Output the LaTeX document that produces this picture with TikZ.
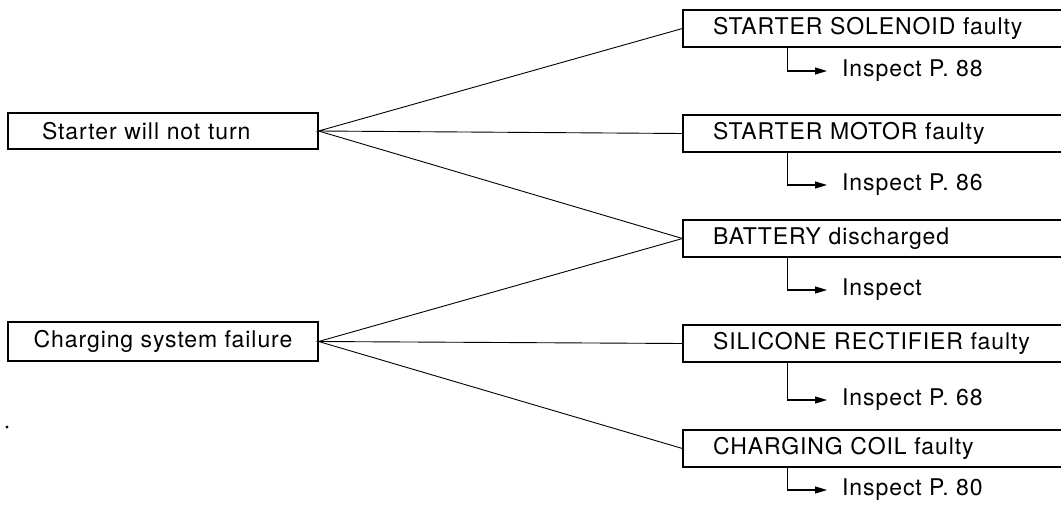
\documentclass[tikz,border=0pt]{standalone}
\usepackage{fontspec}
\setmainfont{TeX Gyre Heros}[LetterSpace=4]
\usetikzlibrary{arrows.meta}
\begin{document}
\begin{tikzpicture}[x=1pt,y=-1pt,
  every node/.style={font=\fontsize{23}{26}\selectfont},
  lbox/.style={draw,line width=1.1pt,minimum width=310pt,inner sep=0pt},
  rbox/.style={draw,line width=1.1pt,minimum width=400pt,minimum height=37pt,inner xsep=30pt,inner ysep=0pt,text width=340pt,align=left},
  insp/.style={anchor=west,inner xsep=15pt,inner ysep=0pt},
  link/.style={line width=0.9pt},
  callout/.style={line width=1.1pt,-{Triangle[length=12pt,width=7pt]}}]
\clip (0,0) rectangle (1061,519);
\node[lbox,minimum height=36pt,inner xsep=34pt,text width=242pt,align=left] (s) at (163,131) {Starter will not turn};
\node[lbox,minimum height=39pt] (c) at (163,341.5) {Charging system failure};
\node[rbox] (r1) at (883,28.5) {STARTER SOLENOID faulty};
\node[rbox] (r2) at (883,133.5) {STARTER MOTOR faulty};
\node[rbox] (r3) at (883,238.5) {BATTERY discharged};
\node[rbox] (r4) at (883,343.5) {SILICONE RECTIFIER faulty};
\node[rbox] (r5) at (883,448.5) {CHARGING COIL faulty};
\node[insp] (i1) at (827,71) {Inspect P. 88};
\node[insp] (i2) at (827,185) {Inspect P. 86};
\node[insp] (i3) at (827,290) {Inspect};
\node[insp] (i4) at (827,400) {Inspect P. 68};
\node[insp] (i5) at (827,490) {Inspect P. 80};
\draw[link] (r1.west) -- (s.east) -- (r2.west);
\draw[link] (s.east) -- (r3.west);
\draw[link] (r3.west) -- (c.east) -- (r4.west);
\draw[link] (c.east) -- (r5.west);
\foreach \r/\i in {r1/i1,r2/i2,r3/i3,r4/i4,r5/i5}
  \draw[callout] (\r.south west) ++(105,0) |- (\i.west);
\fill (7,427) circle (1.6pt);
\end{tikzpicture}
\end{document}
